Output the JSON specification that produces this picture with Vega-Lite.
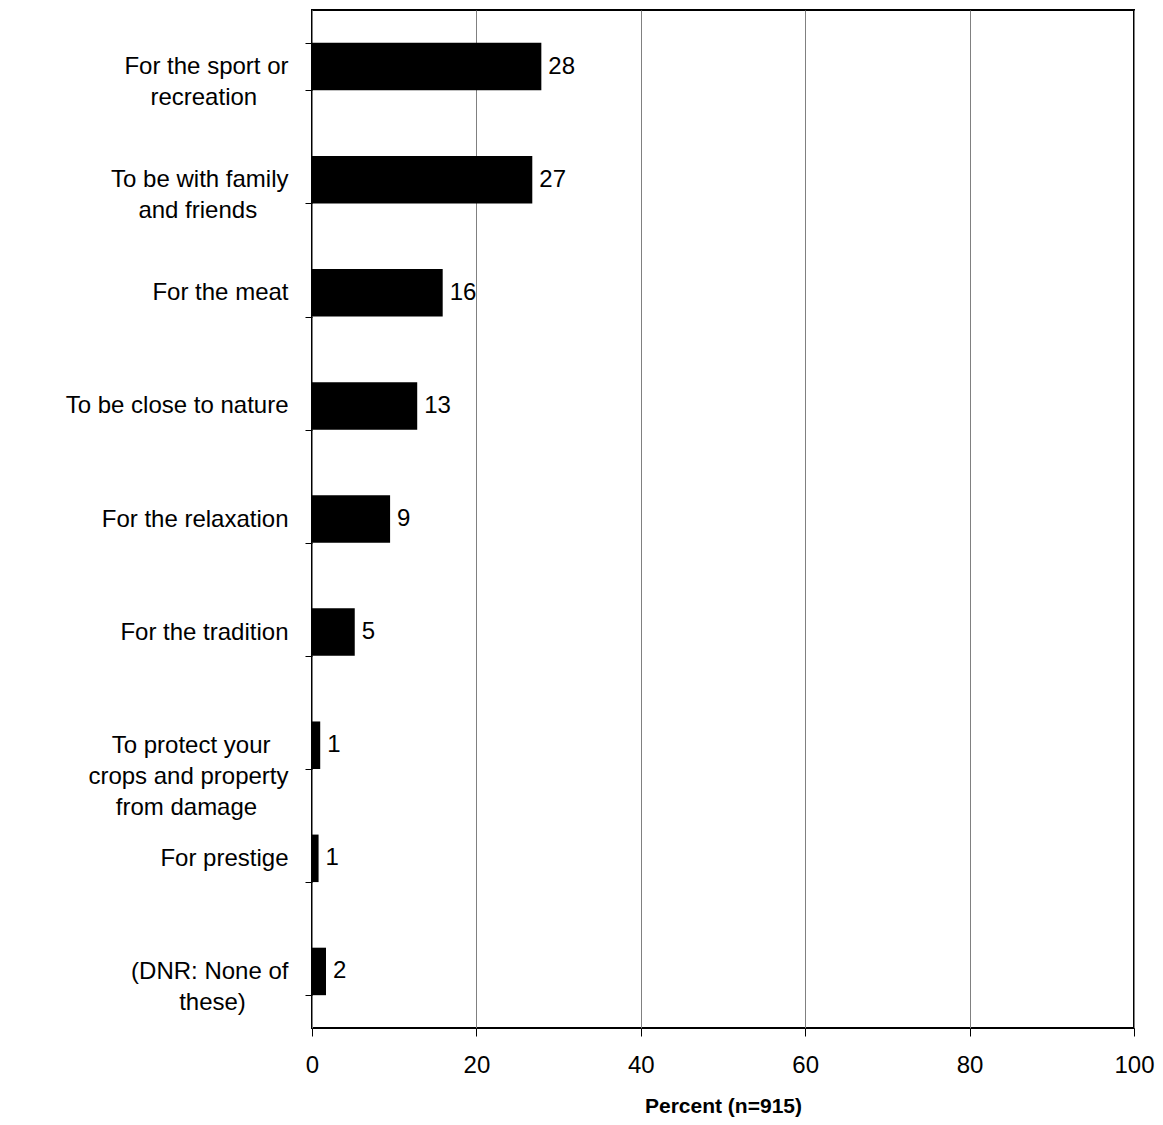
{
  "$schema": "https://vega.github.io/schema/vega-lite/v6.json",
  "autosize": {"type": "none"},
  "padding": {"left": 312, "top": 10, "right": 29, "bottom": 96},
  "width": 822,
  "height": 1018,
  "background": "white",
  "config": {
    "view": {"stroke": "black", "strokeWidth": 2},
    "font": "Liberation Sans"
  },
  "data": {
    "values": [
      {"reason": "For the sport or recreation", "percent": 27.9, "label": "28"},
      {"reason": "To be with family and friends", "percent": 26.8, "label": "27"},
      {"reason": "For the meat", "percent": 15.9, "label": "16"},
      {"reason": "To be close to nature", "percent": 12.8, "label": "13"},
      {"reason": "For the relaxation", "percent": 9.5, "label": "9"},
      {"reason": "For the tradition", "percent": 5.2, "label": "5"},
      {"reason": "To protect your crops and property from damage", "percent": 1.0, "label": "1"},
      {"reason": "For prestige", "percent": 0.8, "label": "1"},
      {"reason": "(DNR: None of these)", "percent": 1.7, "label": "2"}
    ]
  },
  "encoding": {
    "y": {
      "field": "reason",
      "type": "nominal",
      "sort": null,
      "scale": {"paddingInner": 0.58, "paddingOuter": 0.29},
      "axis": {
        "title": null,
        "domain": false,
        "grid": false,
        "tickBand": "extent",
        "tickSize": 7,
        "tickColor": "black",
        "tickWidth": 1,
        "labelPadding": 17,
        "labelFontSize": 24,
        "labelColor": "black",
        "labelLineHeight": 31,
        "labelLimit": 400,
        "labelExpr": "datum.value == 'For the sport or recreation' ? ['For the sport or', 'recreation\u00a0\u00a0\u2800'] : datum.value == 'To be with family and friends' ? ['To be with family', 'and friends\u00a0\u00a0\u2800'] : datum.value == 'To protect your crops and property from damage' ? ['To protect your\u2800', 'crops and property', 'from damage\u00a0\u00a0\u2800'] : datum.value == '(DNR: None of these)' ? ['(DNR: None of', 'these)\u00a0\u2800\u2800'] : datum.value"
      }
    },
    "x": {
      "field": "percent",
      "type": "quantitative",
      "scale": {"domain": [0, 100], "nice": false},
      "axis": {
        "title": "Percent (n=915)",
        "titleFontSize": 21,
        "titleFontWeight": "bold",
        "titleColor": "black",
        "titlePadding": 18,
        "values": [0, 20, 40, 60, 80, 100],
        "domain": false,
        "grid": true,
        "gridColor": "#808080",
        "gridWidth": 1,
        "tickSize": 8,
        "tickColor": "black",
        "labelFontSize": 24,
        "labelColor": "black",
        "labelPadding": 17,
        "labelFlush": false
      }
    }
  },
  "layer": [
    {"mark": {"type": "bar", "color": "black"}},
    {
      "mark": {"type": "text", "align": "left", "baseline": "middle", "dx": 7, "fontSize": 24, "color": "black"},
      "encoding": {"text": {"field": "label"}}
    }
  ]
}
